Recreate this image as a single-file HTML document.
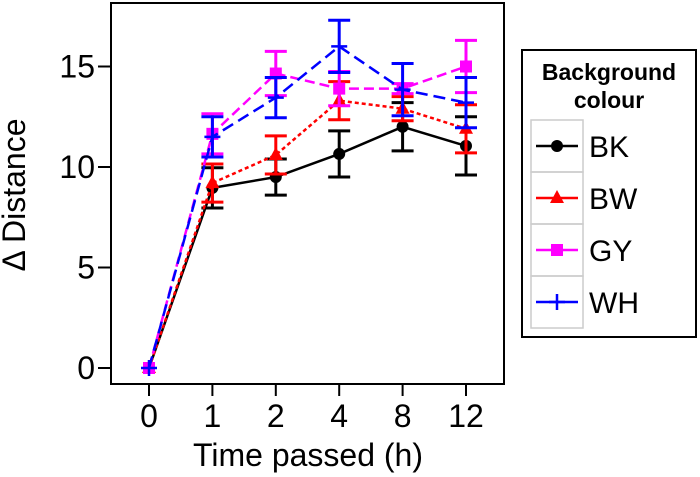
<!DOCTYPE html>
<html><head><meta charset="utf-8"><style>
body{margin:0;background:#fff}
svg{display:block;font-family:"Liberation Sans",Arial,sans-serif}
</style></head><body>
<svg id="chart" width="700" height="477" viewBox="0 0 700 477">
<rect x="111" y="3" width="393" height="381" fill="none" stroke="#000" stroke-width="2"/>
<g id="axes"></g>
<g id="series"></g>
<text x="308" y="466" font-size="32" text-anchor="middle">Time passed (h)</text>
<text transform="translate(25,195) rotate(-90)" font-size="32" text-anchor="middle">Δ Distance</text>
<g>
<rect x="522" y="50" width="174" height="287" fill="#fff" stroke="#000" stroke-width="2"/>
<text x="609" y="80" font-size="23" font-weight="bold" text-anchor="middle">Background</text>
<text x="609" y="108" font-size="23" font-weight="bold" text-anchor="middle">colour</text>
<g id="legend"></g>
</g>
</svg>
<script>
const categories = ["0","1","2","4","8","12"];
const yTicks = [0,5,10,15];
const seriesNames = ["BK","BW","GY","WH"];
const bkValues = [0,8.96,9.5,10.65,12.0,11.05];
const bkErrors = [0,1.0,0.9,1.15,1.2,1.45];
const bwValues = [0,9.2,10.6,13.3,12.9,11.9];
const bwErrors = [0,0.95,0.95,0.95,0.6,1.2];
const gyValues = [0,11.65,14.65,13.9,13.9,15.0];
const gyErrors = [0,1.0,1.1,0.85,0.25,1.3];
const whValues = [0,11.5,13.45,16.0,13.85,13.2];
const whErrors = [0,1.0,1.0,1.3,1.3,1.25];

const NS="http://www.w3.org/2000/svg";
function xPos(i){return 149+i*63.4;}
function yPos(v){return 368-v*20.1;}
function mk(tag,attrs,parent){const e=document.createElementNS(NS,tag);for(const k in attrs)e.setAttribute(k,attrs[k]);parent.appendChild(e);return e;}
const axes=document.getElementById('axes');
yTicks.forEach(t=>{
  const l=mk('line',{x1:98,x2:111,y1:yPos(t),y2:yPos(t),stroke:'#000','stroke-width':2},axes);
  
  
  const tx=mk('text',{x:95,y:yPos(t)+11,'font-size':32,'text-anchor':'end'},axes);
  tx.textContent=t;
  
  
});
categories.forEach((c,i)=>{
  const l=mk('line',{x1:xPos(i),x2:xPos(i),y1:384,y2:396,stroke:'#000','stroke-width':2},axes);
  
  
  const tx=mk('text',{x:xPos(i),y:427,'font-size':32,'text-anchor':'middle'},axes);
  tx.textContent=c;
  
  
});
const styles=[
 {vals:bkValues,errs:bkErrors,color:'#000',dash:'',marker:'circle'},
 {vals:bwValues,errs:bwErrors,color:'#f00',dash:'4,3',marker:'tri'},
 {vals:gyValues,errs:gyErrors,color:'#f0f',dash:'10,5',marker:'square'},
 {vals:whValues,errs:whErrors,color:'#00f',dash:'12,6',marker:'plus'}];
function marker(type,x,y,color,parent){
  let m;
  if(type==='circle')m=mk('circle',{cx:x,cy:y,r:6,fill:color},parent);
  else if(type==='tri')m=mk('polygon',{points:`${x},${y-8} ${x-7},${y+5} ${x+7},${y+5}`,fill:color},parent);
  else if(type==='square')m=mk('rect',{x:x-6,y:y-6,width:12,height:12,fill:color},parent);
  else m=mk('path',{d:`M${x-8},${y}H${x+8}M${x},${y-8}V${y+8}`,stroke:color,'stroke-width':2.5,fill:'none'},parent);
  return m;
}
const sg=document.getElementById('series');
styles.forEach((s,si)=>{
  const g=mk('g',{},sg);
  
  
  const pts=s.vals.map((v,i)=>xPos(i)+','+yPos(v)).join(' ');
  const pl=mk('polyline',{points:pts,fill:'none',stroke:s.color,'stroke-width':2.5,'stroke-dasharray':s.dash},g);
  
  
  s.vals.forEach((v,i)=>{
    const e=s.errs[i];
    if(e>0){
      const x=xPos(i),y1=yPos(v+e),y2=yPos(v-e);
      const eb=mk('path',{d:`M${x},${y1}V${y2}M${x-11},${y1}H${x+11}M${x-11},${y2}H${x+11}`,stroke:s.color,'stroke-width':3,fill:'none'},g);
      
      
    }
    const m=marker(s.marker,xPos(i),yPos(v),s.color,g);
    
    
  });
});
const lg=document.getElementById('legend');
styles.forEach((s,i)=>{
  const y0=120+i*52;
  const g=mk('g',{},lg);
  
  
  mk('rect',{x:531,y:y0,width:52,height:52,fill:'none',stroke:'#ccc','stroke-width':1.5},g);
  mk('line',{x1:536,x2:578,y1:y0+26,y2:y0+26,stroke:s.color,'stroke-width':2.5},g);
  marker(s.marker,557,y0+26,s.color,g);
  const t=mk('text',{x:589,y:y0+37,'font-size':30},g);
  t.textContent=seriesNames[i];
});
</script>
</body></html>
